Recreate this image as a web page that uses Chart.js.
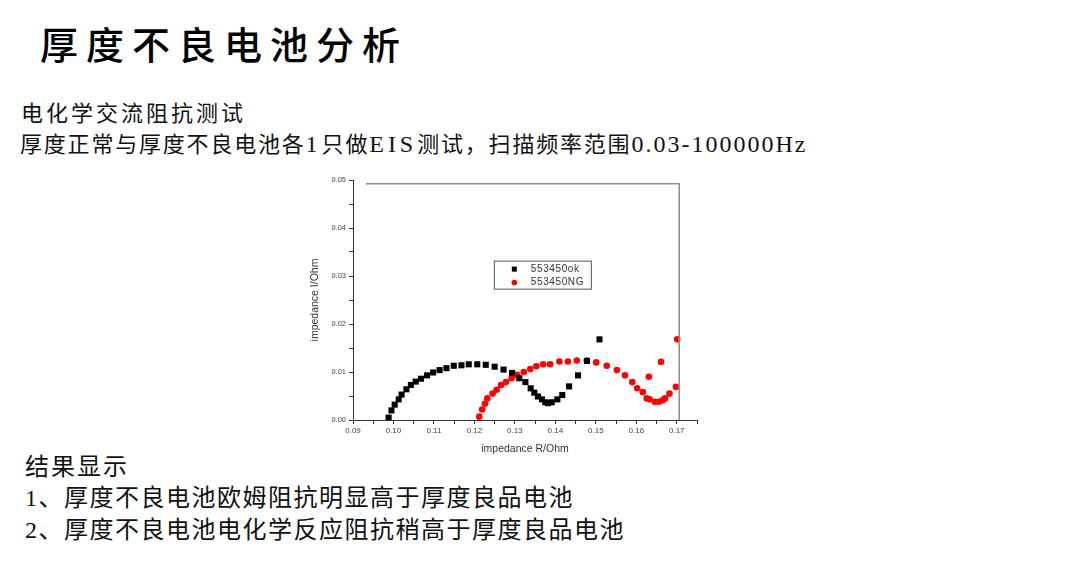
<!DOCTYPE html>
<html>
<head>
<meta charset="utf-8">
<script src="https://cdn.jsdelivr.net/npm/chart.js@4/dist/chart.umd.min.js"></script>
<style>
  html,body{margin:0;padding:0;background:#fff;}
  body{width:1080px;height:561px;overflow:hidden;position:relative;font-family:"Liberation Serif","Noto Sans CJK SC",serif;color:#111;}
  .t{position:absolute;white-space:nowrap;line-height:1;}
  #title{left:40px;top:24px;font-size:38px;font-weight:500;letter-spacing:8px;font-family:"Noto Sans CJK SC",sans-serif;color:#000;}
  #l1{left:21px;top:103px;font-size:22px;letter-spacing:3px;}
  #l2{left:20px;top:132px;font-size:22px;letter-spacing:1.8px;}
  #l2 .a{font-size:24px;letter-spacing:4px;}
  #l2 .b{font-size:24px;letter-spacing:2px;}
  #r0{left:25px;top:455px;font-size:24px;letter-spacing:2px;}
  #r1{left:25px;top:486px;font-size:24px;letter-spacing:1.5px;}
  #r2{left:25px;top:518px;font-size:24px;letter-spacing:1.5px;}
  #wrap{position:absolute;left:300px;top:170px;width:410px;height:290px;}
</style>
</head>
<body>
<div class="t" id="title">厚度不良电池分析</div>
<div class="t" id="l1">电化学交流阻抗测试</div>
<div class="t" id="l2">厚度正常与厚度不良电池各<span class="a">1</span>只做<span class="a">EIS</span>测试，扫描频率范围<span class="b">0.03-100000Hz</span></div>
<div class="t" id="r0">结果显示</div>
<div class="t" id="r1">1、厚度不良电池欧姆阻抗明显高于厚度良品电池</div>
<div class="t" id="r2">2、厚度不良电池电化学反应阻抗稍高于厚度良品电池</div>
<div id="wrap"><canvas id="c" width="410" height="290"></canvas></div>
<script>
// impedance data (Ohm)
const seriesNames = ['553450ok', '553450NG'];
const okR = [0.0988,0.0995,0.1003,0.1013,0.1020,0.1032,0.1043,0.1055,0.1068,0.1083,0.1098,0.1114,0.1131,0.1149,0.1168,0.1186,0.1207,0.1228,0.1250,0.1272,0.1293,0.1311,0.1326,0.1339,0.1348,0.1357,0.1367,0.1375,0.1382,0.1391,0.1405,0.1417,0.1434,0.1456,0.1478,0.1509];
const okI = [0.0005,0.0020,0.0032,0.0043,0.0053,0.0064,0.0073,0.0080,0.0086,0.0093,0.0099,0.0104,0.0108,0.0113,0.0114,0.0116,0.0116,0.0115,0.0111,0.0105,0.0098,0.0087,0.0079,0.0066,0.0057,0.0049,0.0043,0.0037,0.0035,0.0037,0.0043,0.0052,0.0070,0.0093,0.0123,0.0168];
const ngR = [0.1212,0.1219,0.1226,0.1232,0.1245,0.1255,0.1266,0.1278,0.1292,0.1305,0.1322,0.1338,0.1353,0.1370,0.1387,0.1410,0.1431,0.1453,0.1478,0.1501,0.1527,0.1552,0.1572,0.1590,0.1602,0.1616,0.1626,0.1633,0.1646,0.1656,0.1665,0.1671,0.1682,0.1698,0.1631,0.1661,0.1701];
const ngI = [0.0007,0.0022,0.0034,0.0045,0.0055,0.0063,0.0073,0.0079,0.0087,0.0094,0.0100,0.0106,0.0112,0.0116,0.0116,0.0122,0.0122,0.0124,0.0124,0.0120,0.0113,0.0104,0.0093,0.0079,0.0066,0.0058,0.0045,0.0043,0.0038,0.0038,0.0041,0.0045,0.0055,0.0069,0.0090,0.0121,0.0168];
const xRange = [0.09, 0.175];
const yRange = [0, 0.05];

const pts = (xs, ys) => xs.map((x, i) => ({x, y: ys[i]}));
const major = (v) => Math.abs(v * 100 - Math.round(v * 100)) < 1e-6;

// Origin-style partial frame + inset legend
const extras = {
  id: 'extras',
  afterDatasetsDraw(chart){
    const {ctx, scales:{x, y}} = chart;
    ctx.save();
    ctx.strokeStyle = '#8c8c8c'; ctx.lineWidth = 1.5;
    ctx.beginPath();
    ctx.moveTo(x.getPixelForValue(0.0932), y.getPixelForValue(0.0492));
    ctx.lineTo(x.getPixelForValue(0.1706), y.getPixelForValue(0.0492));
    ctx.lineTo(x.getPixelForValue(0.1706), y.getPixelForValue(0));
    ctx.stroke();

    const lx = x.getPixelForValue(0.1248), ly = y.getPixelForValue(0.0332);
    ctx.fillStyle = '#fff'; ctx.fillRect(lx, ly, 97, 28);
    ctx.strokeStyle = '#555'; ctx.lineWidth = 1;
    ctx.strokeRect(lx + 0.5, ly + 0.5, 97, 28);
    ctx.font = '10px "Liberation Sans", Arial';
    ctx.textBaseline = 'middle';
    if ('letterSpacing' in ctx) ctx.letterSpacing = '0.6px';
    chart.data.datasets.forEach((ds, i) => {
      const cy = ly + 8.5 + i * 13.3;
      ctx.fillStyle = ds.backgroundColor;
      if (ds.pointStyle === 'rect') ctx.fillRect(lx + 18, cy - 2.5, 5, 5);
      else { ctx.beginPath(); ctx.arc(lx + 20.5, cy, 2.8, 0, Math.PI * 2); ctx.fill(); }
      ctx.fillStyle = '#333';
      ctx.fillText(ds.label, lx + 37, cy);
    });
    ctx.restore();
  }
};

Chart.defaults.font.family = '"Liberation Sans", Arial, sans-serif';
new Chart(document.getElementById('c'), {
  type: 'scatter',
  data: {
    datasets: [
      { label: seriesNames[0], data: pts(okR, okI), pointStyle: 'rect', pointRadius: 4.3, pointHoverRadius: 4.3, borderWidth: 0, backgroundColor: '#000', borderColor: '#000' },
      { label: seriesNames[1], data: pts(ngR, ngI), pointStyle: 'circle', pointRadius: 3.3, pointHoverRadius: 3.3, borderWidth: 0, backgroundColor: '#ff0000', borderColor: '#ff0000' }
    ]
  },
  options: {
    responsive: false,
    devicePixelRatio: 1,
    animation: false,
    layout: { padding: { top: 10, right: 13, left: 0, bottom: 0 } },
    plugins: { legend: { display: false }, tooltip: { enabled: false } },
    scales: {
      x: {
        type: 'linear', min: xRange[0], max: xRange[1],
        afterFit: (s) => { s.height = 40; },
        border: { color: '#333', width: 1 },
        grid: { drawOnChartArea: false, drawTicks: true, tickLength: 4, tickColor: '#333' },
        ticks: { stepSize: 0.005, includeBounds: false, autoSkip: false, maxRotation: 0, padding: 2, color: '#444', font: { size: 8 },
          callback: (v) => major(v) ? v.toFixed(2) : '' },
        title: { display: true, text: 'impedance R/Ohm', color: '#333', font: { size: 10.5 }, padding: { top: 0, bottom: 5 } }
      },
      y: {
        type: 'linear', min: yRange[0], max: yRange[1],
        afterFit: (s) => { s.width = 53; },
        border: { color: '#333', width: 1 },
        grid: { drawOnChartArea: false, drawTicks: true, tickLength: 4, tickColor: '#333' },
        ticks: { stepSize: 0.005, autoSkip: false, padding: 3, color: '#444', font: { size: 7.5 },
          callback: (v) => major(v) ? v.toFixed(2) : '' },
        title: { display: true, text: 'impedance I/Ohm', color: '#333', font: { size: 10.5 }, padding: { top: 9, bottom: 0 } }
      }
    }
  },
  plugins: [extras]
});
</script>
</body>
</html>
